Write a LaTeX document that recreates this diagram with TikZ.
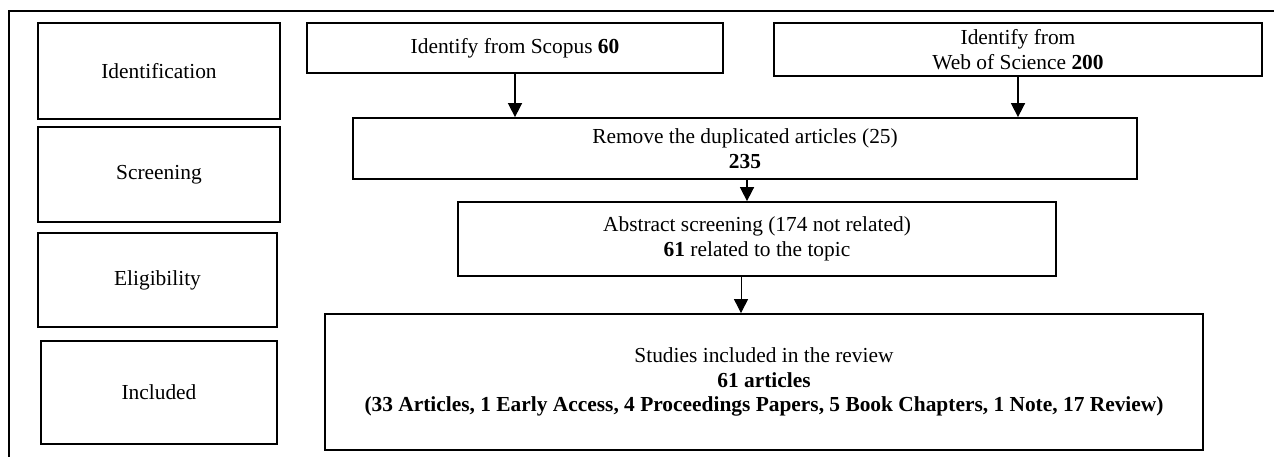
\documentclass[tikz,border=0pt]{standalone}
\usepackage{fontspec}
\setmainfont{Liberation Serif}
\usetikzlibrary{arrows.meta}

\tikzset{
  stagebox/.style={draw, line width=1.8pt, align=center, inner sep=0pt},
  flowarrow/.style={-{Triangle[length=14pt,width=14pt]}, line width=1.6pt},
}

\begin{document}
\begin{tikzpicture}[x=1pt, y=-1pt, font=\fontsize{21.4}{24.5}\selectfont]
  \useasboundingbox (0,0) rectangle (1274,456);
  \draw[line width=1.8pt] (1290,11) -- (9,11) -- (9,470);

  % stages on the left
  \node[stagebox, minimum width=242pt, minimum height=96pt] (ident) at (159,71) {Identification};
  \node[stagebox, minimum width=242pt, minimum height=95pt] (screen) at (159,174.5) {Screening};
  \node[stagebox, minimum width=239pt, minimum height=94pt] (elig) at (157.5,280) {Eligibility};
  \node[stagebox, minimum width=236pt, minimum height=103pt] (incl) at (159,392.5) {Included};

  % flow
  \node[stagebox, minimum width=416pt, minimum height=50pt] (scopus) at (515,48) {Identify from Scopus \textbf{60}};
  \node[stagebox, minimum width=488pt, minimum height=53pt] (wos) at (1018,49.5) {Identify from\\Web of Science \textbf{200}};
  \node[stagebox, minimum width=784pt, minimum height=61pt] (remove) at (745,148.5) {Remove the duplicated articles (25)\\\textbf{235}};
  \node[stagebox, minimum width=598pt, minimum height=74pt] (abstract) at (757,239) {Abstract screening (174 not related)\\\textbf{61} related to the topic};
  \node[stagebox, minimum width=878pt, minimum height=136pt] (studies) at (764,382) {Studies included in the review\\\textbf{61 articles}\\\textbf{(33 Articles, 1 Early Access, 4 Proceedings Papers, 5 Book Chapters, 1 Note, 17 Review)}};

  \draw[flowarrow] (scopus.south) -- (scopus.south |- remove.north);
  \draw[flowarrow] (wos.south) -- (wos.south |- remove.north);
  \draw[flowarrow] ([xshift=2pt]remove.south) -- ([xshift=2pt]remove.south |- abstract.north);
  \draw[flowarrow, line width=0.9pt] ([xshift=-16pt]abstract.south) -- ([xshift=-16pt]abstract.south |- studies.north);
\end{tikzpicture}
\end{document}
